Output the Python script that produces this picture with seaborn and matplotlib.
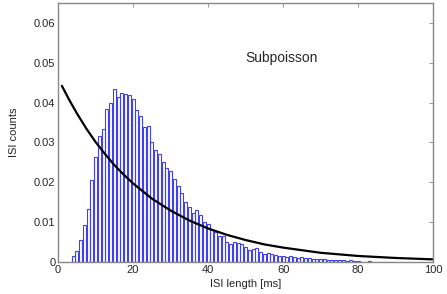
import numpy as np
import pandas as pd
import seaborn as sns
import matplotlib.pyplot as plt

# ISI histogram, bin centres in ms
isi_ms = list(range(4, 91))
isi_counts = [
    0.0015, 0.0027, 0.0054, 0.0093, 0.0132, 0.0205, 0.0264, 0.0316, 0.0334, 0.0383,  # 4-13
    0.0399, 0.0434, 0.0414, 0.0425, 0.0422, 0.0420, 0.0408, 0.0381, 0.0367, 0.0338,  # 14-23
    0.0340, 0.0302, 0.0281, 0.0271, 0.0251, 0.0235, 0.0227, 0.0209, 0.0191, 0.0173,  # 24-33
    0.0150, 0.0137, 0.0123, 0.0131, 0.0118, 0.0101, 0.0095, 0.0079, 0.0076, 0.0066,  # 34-43
    0.0064, 0.0051, 0.0045, 0.0051, 0.0047, 0.0045, 0.0037, 0.0030, 0.0033, 0.0034,  # 44-53
    0.0026, 0.0019, 0.0022, 0.0020, 0.0018, 0.0016, 0.0016, 0.0013, 0.0014, 0.0012,  # 54-63
    0.0011, 0.0012, 0.0010, 0.0009, 0.0008, 0.0007, 0.0008, 0.0007, 0.0006, 0.0005,  # 64-73
    0.0006, 0.0004, 0.0004, 0.0003, 0.0004, 0.0003, 0.0002, 0.0001, 0.0001, 0.0002,  # 74-83
    0.0001, 0.0001, 0.0001, 0.0000, 0.0001, 0.0001, 0.0001,                          # 84-90
]

# exponential (Poisson) reference curve
curve_ms = [1, 3, 5, 7.5, 10, 12.5, 15, 17.5, 20, 25, 30, 35, 40, 45, 50, 55, 60, 70, 80, 90, 100]
curve_val = [0.0442, 0.0406, 0.0373, 0.0335, 0.0301, 0.0271, 0.0243, 0.0219, 0.0197, 0.0159,
             0.0129, 0.0104, 0.0084, 0.0068, 0.0055, 0.0044, 0.0036, 0.0023, 0.0015, 0.0010, 0.00065]

hist_df = pd.DataFrame({'isi': isi_ms, 'count': isi_counts})
curve_df = pd.DataFrame({'isi': curve_ms, 'val': curve_val})

sns.set_style('white')
plt.rcParams['font.family'] = ['Liberation Sans', 'DejaVu Sans']

fig = plt.figure(figsize=(4.47, 2.94), dpi=100)
ax = fig.add_axes([0.130, 0.109, 0.839, 0.881])

sns.histplot(data=hist_df, x='isi', weights='count', discrete=True, shrink=0.8,
             fill=False, color='#4040f0', linewidth=0.8, ax=ax)
sns.lineplot(data=curve_df, x='isi', y='val', color='black', linewidth=1.6, ax=ax)

ax.set_xlim(0, 100)
ax.set_ylim(0, 0.065)
ax.set_xticks([0, 20, 40, 60, 80, 100])
ax.set_yticks([0, 0.01, 0.02, 0.03, 0.04, 0.05, 0.06])
ax.set_yticklabels(['0', '0.01', '0.02', '0.03', '0.04', '0.05', '0.06'])
ax.tick_params(direction='in', top=True, right=True, length=3, width=0.6,
               color='#888888', labelsize=8, pad=2)
for s in ax.spines.values():
    s.set_color('#888888')
    s.set_linewidth(1.0)

ax.set_xlabel('ISI length [ms]', fontsize=8, labelpad=3)
ax.set_ylabel('ISI counts', fontsize=8, labelpad=11)
ax.text(50, 0.0513, 'Subpoisson', fontsize=10, va='center', ha='left')

fig.savefig('out.png', dpi=100)
